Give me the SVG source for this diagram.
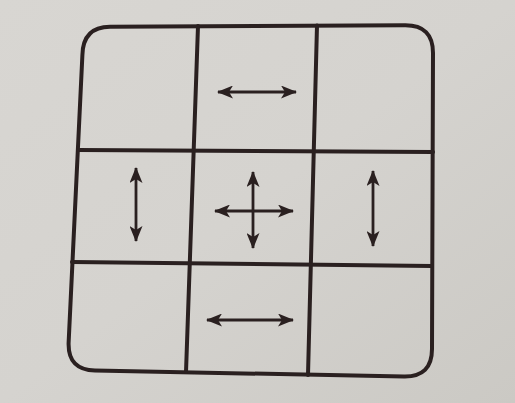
<svg xmlns="http://www.w3.org/2000/svg" width="515" height="403" viewBox="0 0 515 403">
  <defs>
    <linearGradient id="paper" x1="0" y1="0" x2="1" y2="1">
      <stop offset="0" stop-color="#d8d6d2"/>
      <stop offset="0.5" stop-color="#d5d3cf"/>
      <stop offset="1" stop-color="#cbc9c4"/>
    </linearGradient>
    <marker id="ah" viewBox="0 0 16 13" refX="15" refY="6.5" markerWidth="16" markerHeight="13" markerUnits="userSpaceOnUse" orient="auto-start-reverse">
      <path d="M0,0 L16,6.5 L0,13 L4,6.5 Z" fill="#2a2020"/>
    </marker>
    <style>
      .grid { fill: none; stroke: #2a2020; stroke-width: 4; stroke-linejoin: round; stroke-linecap: round; }
      .arr { fill: none; stroke: #2a2020; stroke-width: 2.8; marker-start: url(#ah); marker-end: url(#ah); }
    </style>
  </defs>
  <rect width="515" height="403" fill="url(#paper)"/>

  <g id="frame">
    <path class="grid" d="M110,26.8 L405,25.2 Q433,25 433,53 L432,349 Q432,377 404,376.5 L95,370.5 Q68,370 68.6,343 L82.4,55 Q83,27 110,26.8 Z"/>
  </g>

  <g id="grid-lines">
    <line class="grid" x1="198" y1="26" x2="186" y2="372"/>
    <line class="grid" x1="317" y1="25.5" x2="308" y2="375"/>
    <line class="grid" x1="78" y1="150" x2="433" y2="152"/>
    <line class="grid" x1="72" y1="262" x2="432" y2="266"/>
  </g>

  <g id="cell-top-left"/>
  <g id="cell-top-middle"/>
  <g id="cell-top-right"/>
  <g id="cell-middle-left"/>
  <g id="cell-center"/>
  <g id="cell-middle-right"/>
  <g id="cell-bottom-left"/>
  <g id="cell-bottom-middle"/>
  <g id="cell-bottom-right"/>

  <g id="connectors">
    <line class="arr" x1="218" y1="92" x2="296" y2="92"/>
    <line class="arr" x1="136" y1="168" x2="136" y2="241"/>
    <line class="arr" x1="215" y1="211" x2="293" y2="211"/>
    <line class="arr" x1="253" y1="172" x2="253" y2="248"/>
    <line class="arr" x1="373" y1="171" x2="373" y2="246"/>
    <line class="arr" x1="207" y1="320" x2="293" y2="320"/>
  </g>
</svg>
